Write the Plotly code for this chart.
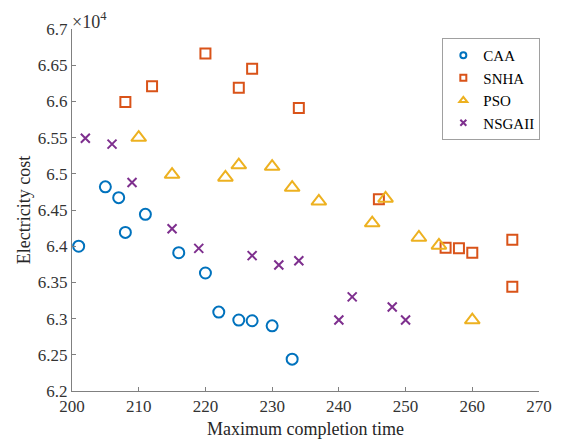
import plotly.graph_objects as go

caa_x = [201, 205, 207, 208, 211, 216, 220, 222, 225, 227, 230, 233]
caa_y = [6.400, 6.482, 6.467, 6.419, 6.444, 6.391, 6.363, 6.309, 6.298, 6.297, 6.290, 6.244]

snha_x = [208, 212, 220, 225, 227, 234, 246, 256, 258, 260, 266, 266]
snha_y = [6.599, 6.621, 6.666, 6.619, 6.645, 6.591, 6.465, 6.398, 6.397, 6.391, 6.409, 6.344]

pso_x = [210, 215, 223, 225, 230, 233, 237, 245, 247, 252, 255, 260]
pso_y = [6.550, 6.499, 6.495, 6.512, 6.510, 6.481, 6.462, 6.432, 6.466, 6.412, 6.401, 6.298]

nsga_x = [202, 206, 209, 215, 219, 227, 231, 234, 240, 242, 248, 250]
nsga_y = [6.549, 6.541, 6.488, 6.424, 6.397, 6.387, 6.374, 6.380, 6.298, 6.330, 6.316, 6.298]

names = ["CAA", "SNHA", "PSO", "NSGAII"]
colors = ["#0072BD", "#D95319", "#EDB120", "#7E2F8E"]
symbols = ["circle-open", "square-open", "triangle-up-open", "x-thin-open"]
sizes = [11, 10, 13, 9]
leg_sizes = [6, 6, 7, 6]

x_ticks = [200, 210, 220, 230, 240, 250, 260, 270]
y_ticks = [6.2, 6.25, 6.3, 6.35, 6.4, 6.45, 6.5, 6.55, 6.6, 6.65, 6.7]
y_labels = ["6.2", "6.25", "6.3", "6.35", "6.4", "6.45", "6.5", "6.55", "6.6", "6.65", "6.7"]

series = [(caa_x, caa_y), (snha_x, snha_y), (pso_x, pso_y), (nsga_x, nsga_y)]

fig = go.Figure()
for (xs, ys), n, c, s, sz in zip(series, names, colors, symbols, sizes):
    fig.add_trace(go.Scatter(x=xs, y=ys, mode="markers", name=n, showlegend=False,
                             marker=dict(symbol=s, size=sz, color=c, line=dict(color=c, width=2))))
for n, c, s, sz in zip(names, colors, symbols, leg_sizes):
    fig.add_trace(go.Scatter(x=[None], y=[None], mode="markers", name=n, showlegend=True,
                             marker=dict(symbol=s, size=sz, color=c, line=dict(color=c, width=2))))

font = "Liberation Serif"
fig.update_layout(
    width=564, height=447,
    margin=dict(l=72, r=15, t=29, b=54),
    paper_bgcolor="white", plot_bgcolor="white",
    font=dict(family=font, size=17, color="#262626"),
    showlegend=True,
    legend=dict(x=0.793, y=0.975, xanchor="left", yanchor="top",
                bgcolor="white", bordercolor="#a0a0a0", borderwidth=1,
                font=dict(family=font, size=15, color="#000"),
                tracegroupgap=0, itemwidth=30),
    xaxis=dict(range=[200, 270], tickvals=x_ticks, ticks="inside", ticklen=4,
               tickcolor="#808080", showline=True, linecolor="#808080", linewidth=1,
               showgrid=False, zeroline=False, mirror=False,
               title=dict(text="Maximum completion time", font=dict(family=font, size=18), standoff=6),
               tickfont=dict(family=font, size=17, color="#333")),
    yaxis=dict(range=[6.2, 6.7], tickvals=y_ticks, ticktext=y_labels, ticks="inside", ticklen=4,
               tickcolor="#808080", showline=True, linecolor="#808080", linewidth=1,
               showgrid=False, zeroline=False, mirror=False,
               title=dict(text="Electricity cost", font=dict(family=font, size=18), standoff=2),
               tickfont=dict(family=font, size=17, color="#333")),
)
fig.add_annotation(xref="paper", yref="paper", x=0, y=1.0, xanchor="left", yanchor="bottom",
                   text="×10<sup>4</sup>", showarrow=False, font=dict(family=font, size=18, color="#333"),
                   xshift=-2, yshift=-5)
fig.write_html("out.html")
